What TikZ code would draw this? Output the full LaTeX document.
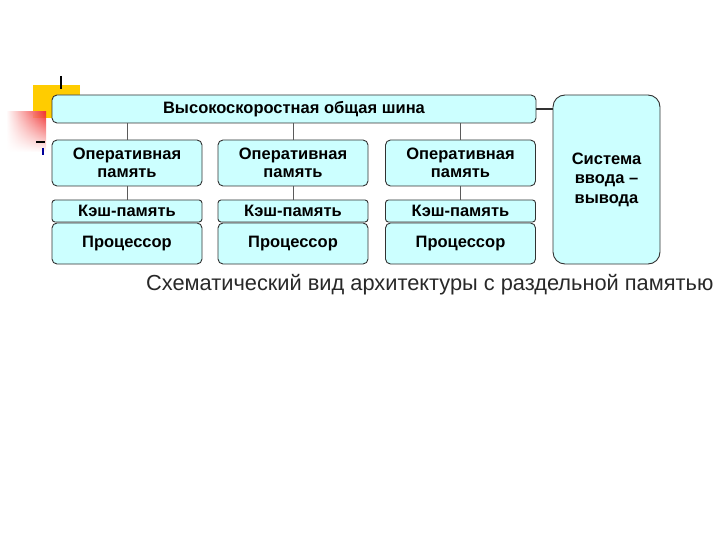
\documentclass[tikz,border=0pt]{standalone}
\usepackage{fontspec}
\setmainfont{Liberation Sans}
\usetikzlibrary{fadings}
\definecolor{boxfill}{RGB}{204,255,255}
\definecolor{boxline}{RGB}{50,50,50}
\definecolor{capcol}{RGB}{40,40,40}
\definecolor{deco}{RGB}{255,204,0}
\definecolor{decored}{RGB}{240,50,50}
\tikzfading[name=fadedown, top color=transparent!0, bottom color=transparent!100]
\tikzset{
  blk/.style={draw=boxline, line width=0.9pt, fill=boxfill, rounded corners=5pt,
    font=\bfseries\fontsize{16.5}{18}\selectfont, align=center, inner sep=0pt},
  link/.style={draw=boxline!80, line width=0.7pt}
}
\begin{document}
\begin{tikzpicture}[x=1pt,y=-1pt]
\useasboundingbox (0,0) rectangle (720,540);
% decoration
\fill[deco] (33,85) rectangle (80,118);
\shade[left color=white, right color=decored, path fading=fadedown] (6,112) rectangle (46,152);
\draw[black, line width=2pt] (61,76) -- (61,89);
\draw[black, line width=2pt] (36,142) -- (45,142);
\draw[blue!60!black, line width=1.2pt] (43,148) -- (43,155);
% bus and I/O
\node[blk, minimum width=484pt, minimum height=28pt] (bus) at (294,109) {Высокоскоростная общая шина};
\node[blk, minimum width=107pt, minimum height=169pt, rounded corners=12pt,
  font=\bfseries\fontsize{16.5}{19.5}\selectfont] (io) at (606.5,179.5) {Система\\ввода –\\вывода};
\draw[boxline, line width=1.6pt] (bus.east) -- (io.west |- bus.east);
% columns
\foreach \i/\cx in {1/127,2/293,3/460.5}{
  \node[blk, minimum width=150pt, minimum height=46pt] (ram\i) at (\cx,163) {Оперативная\\память};
  \node[blk, minimum width=150pt, minimum height=22pt, rounded corners=3pt] (cache\i) at (\cx,211) {Кэш-память};
  \node[blk, minimum width=150pt, minimum height=41pt] (cpu\i) at (\cx,243.5) {Процессор};
  \draw[link] (bus.south -| ram\i.north) -- (ram\i.north);
  \draw[link] (ram\i.south) -- (cache\i.north);
}
\node[anchor=base west, text=capcol, font=\fontsize{21.8}{24}\selectfont, inner sep=0pt] (cap) at (146,290) {Схематический вид архитектуры с раздельной памятью};
\end{tikzpicture}
\end{document}
